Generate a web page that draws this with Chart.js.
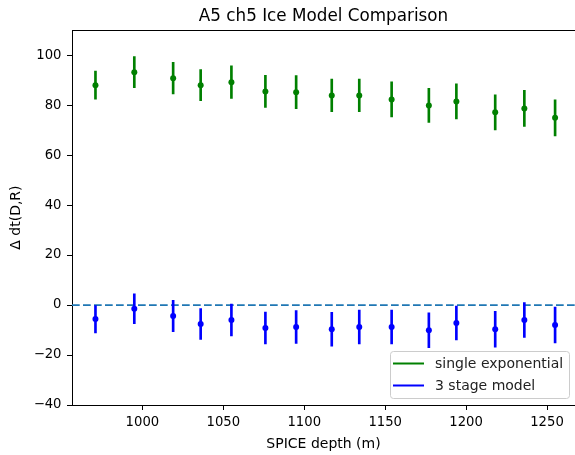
<!DOCTYPE html>
<html>
<head>
<meta charset="utf-8">
<script src="https://cdn.jsdelivr.net/npm/chart.js@4.4.1/dist/chart.umd.min.js"></script>
<style>
  html, body { margin: 0; padding: 0; background: #fff; }
  #wrap { position: relative; width: 575px; height: 455px; }
</style>
</head>
<body>
<div id="wrap"><canvas id="chart"></canvas></div>
<script>
// A5 ch5 ice model comparison
const DEPTHS = [971, 995, 1019, 1036, 1055, 1076, 1095, 1117, 1134, 1154, 1177, 1194, 1218, 1236, 1255];
const SINGLE_EXP = [88.0, 93.2, 90.8, 88.0, 89.2, 85.5, 85.2, 83.9, 83.9, 82.3, 79.9, 81.5, 77.1, 78.7, 74.9];
const SINGLE_EXP_ERR = [5.6, 6.2, 6.3, 6.2, 6.5, 6.4, 6.6, 6.5, 6.5, 7.0, 6.8, 7.0, 7.0, 7.2, 7.2];
const THREE_STAGE = [-5.6, -1.5, -4.4, -7.6, -6.0, -9.2, -8.8, -9.7, -8.8, -8.8, -10.1, -7.2, -9.7, -6.0, -8.0];
const THREE_STAGE_ERR = [5.6, 6.0, 6.3, 6.2, 6.4, 6.4, 6.6, 6.8, 6.8, 6.8, 7.0, 6.8, 7.2, 7.0, 7.2];

const X_TICKS = [1000, 1050, 1100, 1150, 1200, 1250];
const Y_TICKS = [-40, -20, 0, 20, 40, 60, 80, 100];
const X_MIN = 956.5, X_MAX = 1267.3;
const Y_MIN = -40, Y_MAX = 110;

const LEGEND_LABELS = ['single exponential', '3 stage model'];
const GREEN = '#008000';
const BLUE = '#0000ff';
const FONT = "'DejaVu Sans', sans-serif";

Chart.defaults.font.family = FONT;
Chart.defaults.color = '#000';

const fmt = v => (v < 0 ? '\u2212' + Math.abs(v) : String(v));

// error bars as thin floating bars
function errBars(vals, errs) {
  return DEPTHS.map((d, i) => ({ x: d, y: [vals[i] - errs[i], vals[i] + errs[i]] }));
}
function points(vals) {
  return DEPTHS.map((d, i) => ({ x: d, y: vals[i] }));
}

// top spine (right one falls outside the picture)
const spinePlugin = {
  id: 'spines',
  afterDatasetsDraw(chart) {
    const { ctx, chartArea: a } = chart;
    ctx.save();
    ctx.strokeStyle = '#000';
    ctx.lineWidth = 1;
    ctx.beginPath();
    ctx.moveTo(a.left, Math.round(a.top) + 0.5);
    ctx.lineTo(a.right, Math.round(a.top) + 0.5);
    ctx.stroke();
    ctx.restore();
  }
};

// matplotlib style legend box, lower right inside the axes
const legendPlugin = {
  id: 'boxLegend',
  afterDraw(chart) {
    const { ctx, chartArea: a } = chart;
    const w = 179, h = 47;
    const x = Math.round(a.right - 6 - w), y = Math.round(a.bottom - 7 - h);
    const colors = [GREEN, BLUE];
    ctx.save();
    ctx.fillStyle = 'rgba(255,255,255,0.8)';
    ctx.strokeStyle = '#cccccc';
    ctx.lineWidth = 1;
    ctx.beginPath();
    ctx.roundRect(x + 0.5, y + 0.5, w, h, 3);
    ctx.fill();
    ctx.stroke();
    ctx.font = '14px ' + FONT;
    ctx.textBaseline = 'middle';
    LEGEND_LABELS.forEach((label, i) => {
      const ly = y + 12.5 + i * 22;
      ctx.strokeStyle = colors[i];
      ctx.lineWidth = 2;
      ctx.beginPath();
      ctx.moveTo(x + 3, ly);
      ctx.lineTo(x + 34, ly);
      ctx.stroke();
      ctx.fillStyle = '#222';
      ctx.fillText(label, x + 45, ly + 0.5);
    });
    ctx.restore();
  }
};

new Chart(document.getElementById('chart'), {
  type: 'scatter',
  data: {
    datasets: [
      {
        type: 'line',
        label: 'zero',
        data: [{ x: X_MIN, y: 0 }, { x: X_MAX, y: 0 }],
        borderColor: '#1f77b4',
        borderWidth: 1.8,
        borderDash: [7.7, 3.3],
        pointRadius: 0,
        order: 5,
      },
      {
        type: 'bar',
        label: 'single exponential err',
        data: errBars(SINGLE_EXP, SINGLE_EXP_ERR),
        backgroundColor: GREEN,
        barThickness: 2,
        grouped: false,
        borderWidth: 0,
        order: 4,
      },
      {
        type: 'bar',
        label: '3 stage model err',
        data: errBars(THREE_STAGE, THREE_STAGE_ERR),
        backgroundColor: BLUE,
        barThickness: 2,
        grouped: false,
        borderWidth: 0,
        order: 3,
      },
      {
        type: 'scatter',
        label: 'single exponential',
        data: points(SINGLE_EXP),
        pointRadius: 3,
        pointBackgroundColor: GREEN,
        pointBorderWidth: 0,
        order: 2,
      },
      {
        type: 'scatter',
        label: '3 stage model',
        data: points(THREE_STAGE),
        pointRadius: 3,
        pointBackgroundColor: BLUE,
        pointBorderWidth: 0,
        order: 1,
      },
    ],
  },
  options: {
    responsive: true,
    maintainAspectRatio: false,
    animation: false,
    events: [],
    layout: { padding: 0, autoPadding: false },
    plugins: {
      legend: { display: false },
      tooltip: { enabled: false },
      title: {
        display: true,
        fullSize: false,
        text: 'A5 ch5 Ice Model Comparison',
        color: '#000',
        font: { size: 16.8, weight: 'normal', family: FONT },
        padding: { top: 7, bottom: 3 },
      },
    },
    scales: {
      x: {
        type: 'linear',
        min: X_MIN,
        max: X_MAX,
        offset: false,
        afterBuildTicks: s => { s.ticks = X_TICKS.map(v => ({ value: v })); },
        afterFit: s => { s.height = 50; s.paddingLeft = 0; s.paddingRight = 0; },
        grid: { offset: false, drawOnChartArea: false, color: '#000', tickLength: 5, lineWidth: 1 },
        border: { color: '#000', width: 1 },
        ticks: {
          color: '#000',
          font: { size: 13.2, family: FONT },
          padding: 4.5,
          maxRotation: 0,
          autoSkip: false,
          callback: v => fmt(v),
        },
        title: {
          display: true,
          text: 'SPICE depth (m)',
          color: '#000',
          font: { size: 14, family: FONT },
          padding: { top: 0, bottom: 2.5 },
        },
      },
      y: {
        type: 'linear',
        min: Y_MIN,
        max: Y_MAX,
        afterBuildTicks: s => { s.ticks = Y_TICKS.map(v => ({ value: v })); },
        afterFit: s => { s.width = 72; s.paddingTop = 0; s.paddingBottom = 0; },
        grid: { drawOnChartArea: false, color: '#000', tickLength: 5, lineWidth: 1 },
        border: { color: '#000', width: 1 },
        ticks: {
          color: '#000',
          font: { size: 13.2, family: FONT },
          padding: 5.5,
          autoSkip: false,
          callback: v => fmt(v),
        },
        title: {
          display: true,
          text: '\u0394 dt(D,R)',
          color: '#000',
          font: { size: 14, family: FONT },
          padding: { top: 7.5, bottom: 0 },
        },
      },
    },
  },
  plugins: [spinePlugin, legendPlugin],
});
</script>
</body>
</html>
